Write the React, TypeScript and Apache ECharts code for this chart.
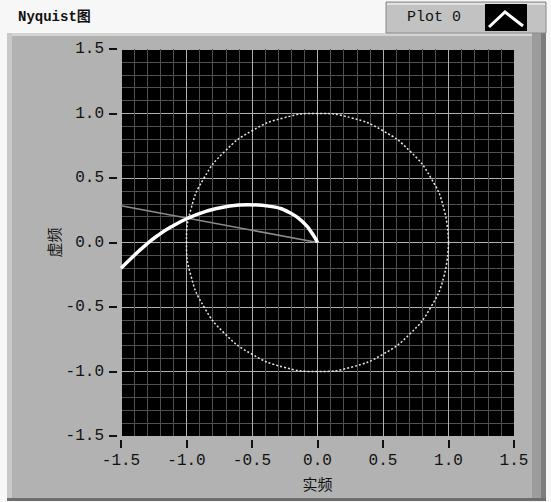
import React, { useEffect, useRef } from "react";
import * as echarts from "echarts";

const nyquistX = [0, -0.04, -0.1, -0.2, -0.36, -0.53, -0.71, -0.84, -0.99, -1.12, -1.22, -1.31, -1.4, -1.5];
const nyquistY = [0, 0.07, 0.147, 0.225, 0.28, 0.293, 0.276, 0.245, 0.188, 0.12, 0.054, -0.018, -0.1, -0.2];
const unitCircleX = [1, 0.966, 0.866, 0.707, 0.5, 0.259, 0, -0.259, -0.5, -0.707, -0.866, -0.966, -1, -0.966, -0.866, -0.707, -0.5, -0.259, 0, 0.259, 0.5, 0.707, 0.866, 0.966, 1];
const unitCircleY = [0, 0.259, 0.5, 0.707, 0.866, 0.966, 1, 0.966, 0.866, 0.707, 0.5, 0.259, 0, -0.259, -0.5, -0.707, -0.866, -0.966, -1, -0.966, -0.866, -0.707, -0.5, -0.259, 0];
const grayLineX = [-1.5, 0];
const grayLineY = [0.285, 0];

const zip = (a: number[], b: number[]) => a.map((v, i) => [v, b[i]]);

export default function App() {
  const ref = useRef<HTMLDivElement>(null);
  useEffect(() => {
    const chart = echarts.init(ref.current!, null, { renderer: "svg" });
    const mono = "Liberation Mono";
    const axisCommon = {
      min: -1.5,
      max: 1.5,
      interval: 0.5,
      offset: 4,
      axisLine: { show: false, onZero: false },
      axisTick: { show: true, length: 8, lineStyle: { color: "#111", width: 2 } },
      axisLabel: {
        color: "#111",
        fontFamily: mono,
        fontSize: 16,
        margin: 13,
        formatter: (v: number) => v.toFixed(1),
      },
      splitLine: { show: true, lineStyle: { color: "#b0b0b0", width: 1 } },
      minorTick: { show: false, splitNumber: 5 },
      minorSplitLine: { show: true, lineStyle: { color: "#505050", width: 1 } },
      nameLocation: "middle" as const,
      nameMoveOverlap: false,
      nameTextStyle: { color: "#111", fontFamily: "Noto Sans CJK SC", fontSize: 15 },
    };
    chart.setOption({
      animation: false,
      backgroundColor: "#f7f7f7",
      graphic: [
        { type: "rect", z: -10, shape: { x: 7, y: 33, width: 539, height: 468 }, style: { fill: "#b2b2b2" } },
        { type: "rect", z: -9, shape: { x: 7, y: 33, width: 539, height: 3 }, style: { fill: "#d4d4d4" } },
        { type: "rect", z: -9, shape: { x: 7, y: 33, width: 5, height: 468 }, style: { fill: "#c8c8c8" } },
        { type: "rect", z: -9, shape: { x: 532, y: 33, width: 14, height: 468 }, style: { fill: "#9c9c9c" } },
        { type: "rect", z: -9, shape: { x: 541, y: 33, width: 5, height: 468 }, style: { fill: "#7c7c7c" } },
        { type: "rect", z: -9, shape: { x: 7, y: 498, width: 539, height: 3 }, style: { fill: "#6e6e6e" } },
        { type: "text", x: 18, y: 10, style: { text: "Nyquist图", fill: "#111", font: "bold 14px 'Liberation Mono', 'Noto Sans CJK SC'" } },
        { type: "rect", shape: { x: 386, y: 2, width: 160, height: 31 }, style: { fill: "#c2c2c2", stroke: "#8a8a8a", lineWidth: 1 } },
        { type: "rect", shape: { x: 387, y: 3, width: 158, height: 2 }, style: { fill: "#e2e2e2" } },
        { type: "text", x: 407, y: 10, style: { text: "Plot 0", fill: "#111", font: "15px 'Liberation Mono'" } },
        { type: "rect", shape: { x: 485, y: 4, width: 42, height: 27 }, style: { fill: "#000" } },
        { type: "polyline", shape: { points: [[489, 27], [505, 12], [523, 26]] }, style: { stroke: "#fff", lineWidth: 3, fill: null } },
      ],
      grid: { left: 121, top: 49, width: 393, height: 387, show: true, backgroundColor: "#000", borderWidth: 0 },
      xAxis: { type: "value", ...axisCommon, name: "实频", nameGap: 36 },
      yAxis: { type: "value", ...axisCommon, name: "虚频", nameGap: 56, nameRotate: 90 },
      series: [
        {
          type: "line",
          data: zip(unitCircleX, unitCircleY),
          showSymbol: false,
          smooth: true,
          lineStyle: { color: "#e6e6e6", width: 1.5, type: [2, 2] },
        },
        {
          type: "line",
          data: zip(grayLineX, grayLineY),
          showSymbol: false,
          lineStyle: { color: "#8c8c8c", width: 1.5 },
        },
        {
          type: "line",
          name: "Plot 0",
          data: zip(nyquistX, nyquistY),
          showSymbol: false,
          smooth: true,
          lineStyle: { color: "#ffffff", width: 3.5 },
        },
      ],
    });
    return () => chart.dispose();
  }, []);
  return <div ref={ref} style={{ position: "fixed", left: 0, top: 0, width: 551, height: 502 }} />;
}
